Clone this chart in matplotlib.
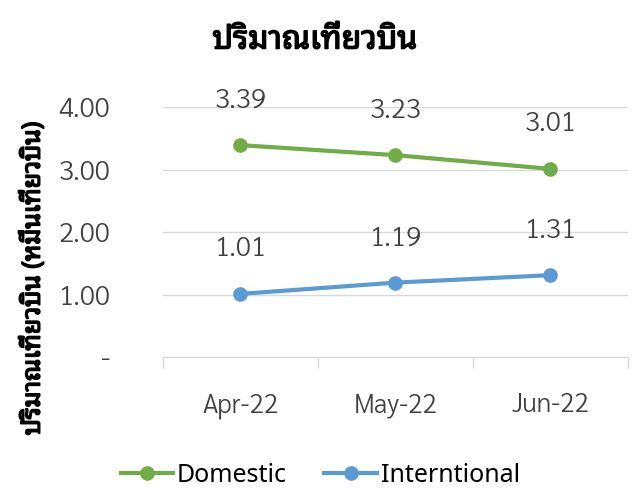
import matplotlib
matplotlib.use("Agg")
import matplotlib.pyplot as plt
from matplotlib.ticker import FixedLocator
import matplotlib.patheffects as pe

months = ["Apr-22", "May-22", "Jun-22"]
domestic = [3.39, 3.23, 3.01]
international = [1.01, 1.19, 1.31]
series_names = ["Domestic", "Interntional"]
y_ticks = [0, 1, 2, 3, 4]
y_tick_labels = ["-", "1.00", "2.00", "3.00", "4.00"]
title = "ปริมาณเที่ยวบิน"
ylabel = "ปริมาณเที่ยวบิน (หมื่นเที่ยวบิน)"

THAI = ["Noto Sans Thai Looped", "Noto Sans Thai", "DejaVu Sans"]
NUM = ["Sarabun", "DejaVu Sans"]
NUMW = 300
plt.rcParams['font.family'] = THAI

fig = plt.figure(figsize=(6.34, 4.88), dpi=100)
ax = fig.add_axes([0.257, 0.2684, 0.7335, 0.5123])
x = list(range(len(months)))
green = "#70AD47"
blue = "#5B9BD5"
ax.plot(x, domestic, color=green, lw=3, marker="o", ms=9.5, label=series_names[0], zorder=3)
ax.plot(x, international, color=blue, lw=3, marker="o", ms=9.5, label=series_names[1], zorder=3)
for series in (domestic, international):
    for xi, v in zip(x, series):
        ax.annotate(f"{v:.2f}", (xi, v), xytext=(0, 32), textcoords="offset points",
                    ha="center", va="center", fontsize=20, color="#404040", family=NUM,
                    fontweight=NUMW)
ax.set_xlim(-0.5, 2.5)
ax.set_ylim(0, 4)
ax.set_yticks(y_ticks)
ax.set_yticklabels(y_tick_labels, fontsize=20, color="#404040", family=NUM, fontweight=NUMW)
ax.set_xticks(x)
ax.set_xticklabels(months, fontsize=19, color="#404040", family=NUM, fontweight=NUMW)
ax.xaxis.set_minor_locator(FixedLocator([-0.5, 0.5, 1.5, 2.5]))
ax.tick_params(axis="x", which="major", length=0, pad=25)
ax.tick_params(axis="x", which="minor", length=8, color="#D9D9D9", width=1)
ax.tick_params(axis="y", length=0, pad=38)
ax.grid(axis="y", color="#D9D9D9", lw=1)
for s in ["top", "right", "left"]:
    ax.spines[s].set_visible(False)
ax.spines["bottom"].set_color("#D9D9D9")
ax.set_axisbelow(True)
bold = [pe.withStroke(linewidth=1.1, foreground="black")]
fig.text(0.497, 0.918, title, ha="center", va="center", fontsize=23, fontweight="bold",
         path_effects=bold)
fig.text(0.052, 0.43, ylabel, ha="center", va="center", rotation=90, fontsize=18,
         fontweight="bold", path_effects=bold)
fig.legend(loc="center", bbox_to_anchor=(0.505, 0.026), ncol=2, frameon=False,
           handlelength=2.1, columnspacing=1.5, handletextpad=0.15,
           prop={"family": THAI, "size": 18})
fig.savefig("out.png", dpi=100)
